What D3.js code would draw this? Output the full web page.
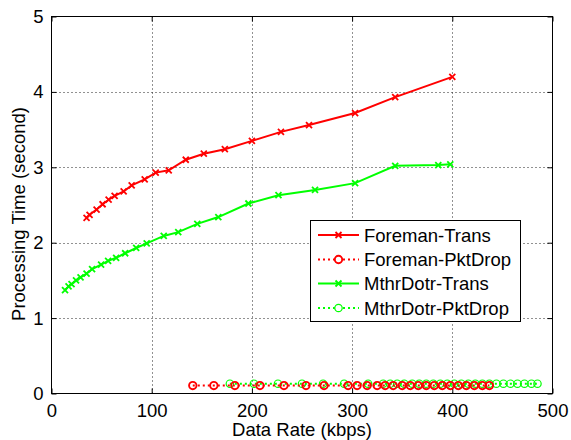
<!DOCTYPE html>
<html>
<head>
<meta charset="utf-8">
<script src="https://cdn.jsdelivr.net/npm/d3@7"></script>
<style>
  html, body { margin: 0; padding: 0; background: #fff; }
  svg { display: block; }
  text { font-family: "Liberation Sans", Arial, Helvetica, sans-serif; fill: #000; }
</style>
</head>
<body>
<svg id="chart" width="571" height="440"></svg>
<script>
// Processing time vs. data rate, two video sequences
const xTicks = [0, 100, 200, 300, 400, 500];
const yTicks = [0, 1, 2, 3, 4, 5];

const foremanTransX = [35, 38, 45, 51, 57, 63, 72, 80, 93, 104, 117, 134, 152, 173, 200, 229, 257, 303, 343, 400];
const foremanTransY = [2.33, 2.37, 2.44, 2.51, 2.57, 2.62, 2.68, 2.76, 2.84, 2.93, 2.96, 3.10, 3.18, 3.24, 3.35, 3.47, 3.56, 3.72, 3.93, 4.20];

const mthrTransX = [13.5, 17, 20, 24.5, 29, 35, 40.5, 49.5, 56.5, 64.5, 73.5, 84.5, 95, 112, 126.5, 145.5, 166.5, 196.5, 226.5, 263, 303, 343, 386, 398];
const mthrTransY = [1.37, 1.42, 1.45, 1.50, 1.54, 1.59, 1.65, 1.71, 1.76, 1.80, 1.86, 1.93, 1.99, 2.09, 2.14, 2.25, 2.34, 2.52, 2.63, 2.70, 2.79, 3.02, 3.03, 3.04];

const foremanDropX = [141, 162, 183, 208, 232, 254, 272, 296, 305, 315, 325, 333, 341, 350, 358, 366, 374, 382, 390, 398, 406, 414, 422, 430, 437];
const foremanDropY = foremanDropX.map(() => 0.105);

const mthrDropX = [178, 202, 226, 250, 271, 292, 316, 331, 338, 345, 352, 360, 367, 374, 381, 388, 395, 402, 409, 416, 423, 430, 437, 444, 451, 458, 465, 472, 479, 485];
const mthrDropY = mthrDropX.map(() => 0.13);

const legendLabels = ["Foreman-Trans", "Foreman-PktDrop", "MthrDotr-Trans", "MthrDotr-PktDrop"];

const RED = "#ff0000", GREEN = "#00ff00";

const svg = d3.select("#chart");
const L = 51.5, R = 552.5, T = 16.5, B = 393.5;
const x = d3.scaleLinear().domain([0, 500]).range([L, R]);
const y = d3.scaleLinear().domain([0, 5]).range([B, T]);

// grid
const grid = svg.append("g").attr("stroke", "#222").attr("stroke-width", 1)
  .attr("stroke-dasharray", "1,3");
xTicks.slice(1, -1).forEach(v => {
  grid.append("line").attr("x1", Math.round(x(v)) + 0.5).attr("x2", Math.round(x(v)) + 0.5)
    .attr("y1", T).attr("y2", B);
});
yTicks.slice(1, -1).forEach(v => {
  grid.append("line").attr("y1", Math.round(y(v)) + 0.5).attr("y2", Math.round(y(v)) + 0.5)
    .attr("x1", L).attr("x2", R);
});

// axes with inward ticks
const fontSize = "18.5px";
const ax = svg.append("g").attr("transform", `translate(0,${B})`)
  .call(d3.axisBottom(x).tickValues(xTicks).tickSize(-5).tickPadding(10).tickFormat(d3.format("d")));
const ay = svg.append("g").attr("transform", `translate(${L},0)`)
  .call(d3.axisLeft(y).tickValues(yTicks).tickSize(-5).tickPadding(8).tickFormat(d3.format("d")));
const axTop = svg.append("g").attr("transform", `translate(0,${T})`)
  .call(d3.axisTop(x).tickValues(xTicks).tickSize(-5).tickFormat(""));
const ayRight = svg.append("g").attr("transform", `translate(${R},0)`)
  .call(d3.axisRight(y).tickValues(yTicks).tickSize(-5).tickFormat(""));
[ax, ay, axTop, ayRight].forEach(g => {
  g.select(".domain").remove();
  g.selectAll("line").attr("stroke", "#000");
  g.selectAll("text").attr("font-size", fontSize).attr("font-family", "Liberation Sans, Arial, sans-serif");
});

// frame
svg.append("rect").attr("x", L).attr("y", T).attr("width", R - L).attr("height", B - T)
  .attr("fill", "none").attr("stroke", "#000").attr("stroke-width", 1);

// axis titles
svg.append("text").attr("x", (L + R) / 2).attr("y", 436).attr("text-anchor", "middle")
  .attr("font-size", fontSize).text("Data Rate (kbps)");
svg.append("text").attr("transform", "translate(25,214) rotate(-90)").attr("text-anchor", "middle")
  .attr("font-size", fontSize).text("Processing Time (second)");

const line = d3.line().x(d => x(d[0])).y(d => y(d[1]));
const xMark = "M-3,-3L3,3M-3,3L3,-3";

function drawSeries(xs, ys, color, dashed, marker, circleStroke) {
  const pts = xs.map((v, i) => [v, ys[i]]);
  const g = svg.append("g");
  g.append("path").datum(pts).attr("d", line).attr("fill", "none")
    .attr("stroke", color).attr("stroke-width", 2)
    .attr("stroke-dasharray", dashed ? "2,3" : null);
  if (marker === "x") {
    g.selectAll("path.m").data(pts).join("path").attr("class", "m")
      .attr("transform", d => `translate(${x(d[0])},${y(d[1])})`)
      .attr("d", xMark).attr("stroke", color).attr("stroke-width", 1.8).attr("fill", "none");
  } else {
    g.selectAll("circle").data(pts).join("circle")
      .attr("cx", d => x(d[0])).attr("cy", d => y(d[1])).attr("r", 3.7)
      .attr("fill", "none").attr("stroke", color).attr("stroke-width", circleStroke);
  }
}

drawSeries(mthrDropX, mthrDropY, GREEN, true, "o", 1.2);
drawSeries(foremanDropX, foremanDropY, RED, true, "o", 1.9);
drawSeries(mthrTransX, mthrTransY, GREEN, false, "x");
drawSeries(foremanTransX, foremanTransY, RED, false, "x");

// legend
const lg = svg.append("g");
lg.append("rect").attr("x", 310.5).attr("y", 220.5).attr("width", 210).attr("height", 101)
  .attr("fill", "#fff").attr("stroke", "#000").attr("stroke-width", 1);
const legendStyle = [
  { color: RED, dashed: false, marker: "x", cs: 1.9 },
  { color: RED, dashed: true, marker: "o", cs: 1.9 },
  { color: GREEN, dashed: false, marker: "x", cs: 1.2 },
  { color: GREEN, dashed: true, marker: "o", cs: 1.2 }
];
const rowY = [235, 259.5, 283.5, 308];
legendLabels.forEach((lab, i) => {
  const s = legendStyle[i];
  const yy = rowY[i];
  lg.append("line").attr("x1", 318).attr("x2", 359).attr("y1", yy).attr("y2", yy)
    .attr("stroke", s.color).attr("stroke-width", 2)
    .attr("stroke-dasharray", s.dashed ? "2,3" : null);
  if (s.marker === "x") {
    lg.append("path").attr("transform", `translate(338.5,${yy})`).attr("d", xMark)
      .attr("stroke", s.color).attr("stroke-width", 1.8).attr("fill", "none");
  } else {
    lg.append("circle").attr("cx", 338.5).attr("cy", yy).attr("r", 3.7)
      .attr("fill", "#fff").attr("stroke", s.color).attr("stroke-width", s.cs);
  }
  lg.append("text").attr("x", 364).attr("y", yy).attr("dy", "0.36em")
    .attr("font-size", fontSize).text(lab);
});
</script>
</body>
</html>
